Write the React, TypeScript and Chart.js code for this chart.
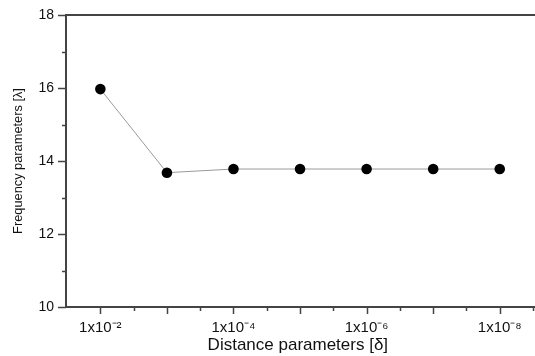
import React, { useEffect, useRef } from "react";
import { Chart, registerables } from "chart.js";

Chart.register(...registerables);

const categories = ["1x10⁻²", "1x10⁻³", "1x10⁻⁴", "1x10⁻⁵", "1x10⁻⁶", "1x10⁻⁷", "1x10⁻⁸"];
const frequencyValues = [15.97, 13.68, 13.78, 13.78, 13.78, 13.78, 13.78];
const yTicks = [10, 12, 14, 16, 18];
const yMinorTicks = [11, 13, 15, 17];
const xLabelledIndices = [0, 2, 4, 6];

const FONT = "'Liberation Sans', Arial, sans-serif";
const AXIS_COLOR = "#444";

const decorPlugin = {
  id: "decor",
  afterDraw(chart: any) {
    const { ctx, chartArea } = chart;
    const xs = chart.scales.x;
    const ys = chart.scales.y;
    ctx.save();
    ctx.strokeStyle = AXIS_COLOR;
    ctx.lineWidth = 2;
    ctx.beginPath();
    ctx.moveTo(chartArea.left, chartArea.top);
    ctx.lineTo(chart.width, chartArea.top);
    ctx.moveTo(chartArea.left, chartArea.top - 1);
    ctx.lineTo(chartArea.left, chartArea.bottom + 1);
    ctx.moveTo(chartArea.left - 1, chartArea.bottom);
    ctx.lineTo(chart.width, chartArea.bottom);
    ctx.stroke();
    ctx.lineWidth = 1.5;
    ctx.beginPath();
    categories.forEach((_, i) => {
      const px = Math.round(xs.getPixelForValue(i)) + 0.5;
      ctx.moveTo(px, chartArea.bottom);
      ctx.lineTo(px, chartArea.bottom + 7);
      const mx = Math.round(xs.getPixelForValue(i + 0.5)) + 0.5;
      if (mx < chart.width) {
        ctx.moveTo(mx, chartArea.bottom);
        ctx.lineTo(mx, chartArea.bottom + 4);
      }
    });
    yTicks.forEach((v) => {
      const py = Math.round(ys.getPixelForValue(v)) + 0.5;
      ctx.moveTo(chartArea.left, py);
      ctx.lineTo(chartArea.left - 8, py);
    });
    yMinorTicks.forEach((v) => {
      const py = Math.round(ys.getPixelForValue(v)) + 0.5;
      ctx.moveTo(chartArea.left, py);
      ctx.lineTo(chartArea.left - 4, py);
    });
    ctx.stroke();
    ctx.restore();
  },
};

export default function App() {
  const ref = useRef<HTMLCanvasElement>(null);
  useEffect(() => {
    document.body.style.margin = "0";
    const chart = new Chart(ref.current as HTMLCanvasElement, {
      type: "line",
      data: {
        datasets: [
          {
            data: frequencyValues.map((v, i) => ({ x: i, y: v })),
            borderColor: "#9a9a9a",
            borderWidth: 1,
            pointBackgroundColor: "#000",
            pointBorderColor: "#000",
            pointRadius: 5.3,
            pointBorderWidth: 0,
            tension: 0,
          },
        ],
      },
      options: {
        animation: false,
        responsive: false,
        layout: { padding: { top: 15, right: 0, left: 0, bottom: 0 } },
        plugins: { legend: { display: false }, tooltip: { enabled: false } },
        scales: {
          x: {
            type: "linear",
            min: -0.516,
            max: 6.45,
            grid: { display: false, drawTicks: false },
            border: { display: false },
            afterBuildTicks: (s: any) => {
              s.ticks = xLabelledIndices.map((v) => ({ value: v }));
            },
            afterFit: (s: any) => {
              s.height = 49;
              s.paddingLeft = 0;
              s.paddingRight = 0;
            },
            ticks: {
              autoSkip: false,
              maxRotation: 0,
              padding: 12,
              color: "#111",
              font: { family: FONT, size: 15 },
              callback: (v: any) => categories[Number(v)] ?? "",
            },
            title: {
              display: true,
              text: "Distance parameters [δ]",
              color: "#111",
              font: { family: FONT, size: 17 },
              padding: { top: 0, bottom: 0 },
            },
          },
          y: {
            min: 10,
            max: 18,
            grid: { display: false, drawTicks: false },
            border: { display: false },
            afterBuildTicks: (s: any) => {
              s.ticks = yTicks.map((v) => ({ value: v }));
            },
            afterFit: (s: any) => {
              s.width = 66;
              s.paddingTop = 0;
              s.paddingBottom = 0;
            },
            ticks: {
              padding: 12,
              color: "#111",
              font: { family: FONT, size: 14 },
            },
            title: {
              display: true,
              text: "Frequency parameters [λ]",
              color: "#111",
              font: { family: FONT, size: 12.8 },
              padding: { top: 10.5, bottom: 0 },
            },
          },
        },
      },
      plugins: [decorPlugin],
    });
    return () => chart.destroy();
  }, []);
  return (
    <div style={{ position: "absolute", left: 0, top: 0, width: 535, height: 356 }}>
      <canvas ref={ref} width={535} height={356} />
    </div>
  );
}
